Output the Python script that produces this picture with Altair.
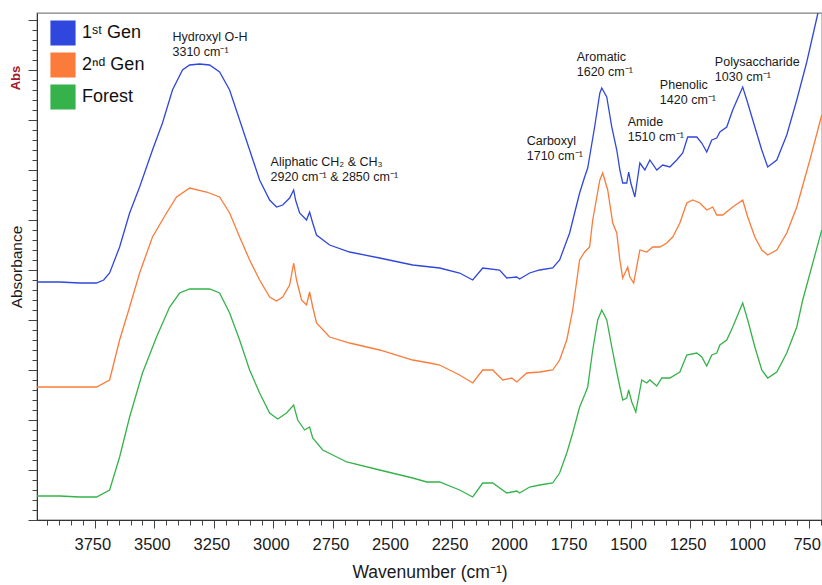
import altair as alt
import pandas as pd

# ---------------- data ----------------
series_names = ["1ˢᵗ Gen", "2ⁿᵈ Gen", "Forest"]
series_colors = ["#2f47dc", "#fb7b3a", "#36b24a"]

wn_1st = [3995, 3898, 3814, 3743, 3713, 3688, 3646, 3604, 3562, 3508, 3466, 3424, 3382, 3352,
          3310, 3268, 3226, 3184, 3142, 3100, 3058, 3016, 2987, 2961, 2932, 2915, 2907, 2890,
          2861, 2848, 2835, 2819, 2764, 2680, 2554, 2415, 2302, 2218, 2163, 2121, 2050, 2020,
          1978, 1966, 1924, 1882, 1827, 1798, 1756, 1714, 1693, 1680, 1651, 1629, 1621, 1600,
          1579, 1558, 1545, 1533, 1516, 1508, 1499, 1482, 1461, 1440, 1419, 1390, 1365, 1335,
          1306, 1281, 1260, 1222, 1201, 1180, 1159, 1138, 1125, 1096, 1071, 1029, 1008, 978,
          949, 924, 886, 844, 802, 760, 714, 697]
abs_1st = [2.38, 2.38, 2.37, 2.37, 2.40, 2.47, 2.73, 3.07, 3.33, 3.70, 3.97, 4.30, 4.50, 4.55,
           4.56, 4.55, 4.48, 4.30, 4.00, 3.70, 3.40, 3.20, 3.13, 3.15, 3.22, 3.30, 3.20, 3.07,
           3.00, 3.08, 2.97, 2.85, 2.75, 2.68, 2.62, 2.55, 2.52, 2.47, 2.40, 2.52, 2.50, 2.42,
           2.43, 2.41, 2.47, 2.50, 2.52, 2.60, 2.87, 3.27, 3.43, 3.52, 3.93, 4.27, 4.32, 4.23,
           3.93, 3.70, 3.50, 3.37, 3.37, 3.48, 3.37, 3.23, 3.57, 3.50, 3.60, 3.50, 3.55, 3.53,
           3.60, 3.67, 3.83, 3.83, 3.77, 3.68, 3.80, 3.82, 3.88, 3.93, 4.10, 4.33, 4.17, 3.93,
           3.70, 3.53, 3.60, 3.85, 4.20, 4.58, 5.06, 5.25]

wn_2nd = [3995, 3898, 3814, 3743, 3688, 3646, 3604, 3562, 3508, 3449, 3407, 3352, 3281, 3226,
          3184, 3142, 3100, 3058, 3016, 2987, 2961, 2932, 2915, 2903, 2882, 2861, 2848, 2835,
          2819, 2764, 2680, 2554, 2415, 2344, 2302, 2218, 2163, 2121, 2079, 2037, 1999, 1978,
          1936, 1882, 1827, 1798, 1768, 1743, 1714, 1693, 1672, 1659, 1629, 1617, 1596, 1575,
          1558, 1545, 1533, 1512, 1503, 1487, 1461, 1432, 1407, 1377, 1348, 1323, 1293, 1264,
          1239, 1209, 1180, 1155, 1138, 1113, 1071, 1029, 1008, 978, 949, 924, 886, 844, 802,
          747, 697]
abs_2nd = [1.33, 1.33, 1.33, 1.33, 1.40, 1.80, 2.13, 2.47, 2.83, 3.07, 3.23, 3.32, 3.28, 3.23,
           3.07, 2.83, 2.60, 2.40, 2.23, 2.19, 2.23, 2.35, 2.57, 2.40, 2.20, 2.15, 2.28, 2.13,
           1.97, 1.83, 1.77, 1.70, 1.60, 1.57, 1.55, 1.45, 1.37, 1.50, 1.50, 1.40, 1.42, 1.38,
           1.47, 1.48, 1.50, 1.60, 1.80, 2.10, 2.60, 2.68, 2.73, 3.00, 3.40, 3.47, 3.30, 2.97,
           2.87, 2.60, 2.42, 2.53, 2.43, 2.37, 2.70, 2.68, 2.73, 2.73, 2.77, 2.83, 2.97, 3.17,
           3.20, 3.17, 3.10, 3.13, 3.05, 3.05, 3.13, 3.20, 3.03, 2.83, 2.70, 2.65, 2.70, 2.87,
           3.13, 3.60, 4.05]

wn_forest = [3995, 3898, 3814, 3743, 3688, 3646, 3604, 3550, 3491, 3436, 3394, 3352, 3268,
             3226, 3184, 3142, 3100, 3058, 3016, 2982, 2945, 2915, 2898, 2869, 2848, 2835,
             2793, 2692, 2554, 2415, 2356, 2302, 2218, 2163, 2121, 2079, 2020, 1978, 1966,
             1924, 1882, 1827, 1798, 1768, 1743, 1714, 1693, 1680, 1659, 1638, 1621, 1600,
             1579, 1558, 1545, 1533, 1516, 1508, 1495, 1478, 1453, 1432, 1419, 1390, 1369,
             1335, 1293, 1264, 1222, 1201, 1180, 1159, 1138, 1125, 1096, 1071, 1029, 1008,
             978, 949, 924, 886, 844, 802, 777, 697]
abs_forest = [0.24, 0.24, 0.23, 0.23, 0.30, 0.63, 1.03, 1.47, 1.83, 2.13, 2.27, 2.31, 2.31,
              2.27, 2.07, 1.80, 1.50, 1.27, 1.07, 1.01, 1.07, 1.15, 1.00, 0.90, 0.93, 0.82,
              0.70, 0.58, 0.50, 0.42, 0.38, 0.38, 0.30, 0.23, 0.37, 0.37, 0.27, 0.29, 0.27,
              0.33, 0.35, 0.37, 0.47, 0.67, 0.87, 1.13, 1.25, 1.33, 1.70, 2.00, 2.10, 2.00,
              1.73, 1.48, 1.33, 1.20, 1.22, 1.30, 1.18, 1.08, 1.40, 1.37, 1.40, 1.34, 1.42,
              1.42, 1.48, 1.65, 1.67, 1.63, 1.54, 1.65, 1.67, 1.75, 1.80, 1.93, 2.17, 2.00,
              1.73, 1.50, 1.42, 1.48, 1.67, 1.93, 2.20, 2.90]

ann_text = ["Hydroxyl O-H\n3310 cm⁻¹",
            "Aliphatic CH₂ & CH₃\n2920 cm⁻¹ & 2850 cm⁻¹",
            "Carboxyl\n1710 cm⁻¹",
            "Aromatic\n1620 cm⁻¹",
            "Amide\n1510 cm⁻¹",
            "Phenolic\n1420 cm⁻¹",
            "Polysaccharide\n1030 cm⁻¹"]
ann_wn = [3424, 3012, 1936, 1726, 1512, 1377, 1146]
ann_abs = [4.89, 3.64, 3.85, 4.69, 4.04, 4.41, 4.64]

x_ticks = list(range(700, 4000, 50))
y_ticks = [round(i * 0.1, 1) for i in range(0, 51)]

# ---------------- tables ----------------
rows = []
for name, wn, ab in [(series_names[0], wn_1st, abs_1st),
                     (series_names[1], wn_2nd, abs_2nd),
                     (series_names[2], wn_forest, abs_forest)]:
    for w, a in zip(wn, ab):
        rows.append({"series": name, "wavenumber": w, "absorbance": a})
df = pd.DataFrame(rows)
ann_df = pd.DataFrame({"wavenumber": ann_wn, "absorbance": ann_abs, "label": ann_text})

FONT = "Liberation Sans"

x_scale = alt.Scale(domain=[3993, 696], nice=False, zero=False)
y_scale = alt.Scale(domain=[0, 5.07], nice=False, zero=False)
color_scale = alt.Scale(domain=series_names, range=series_colors)

x_enc = alt.X("wavenumber:Q", scale=x_scale,
              axis=alt.Axis(title="Wavenumber (cm⁻¹)", values=x_ticks, format="d",
                            labelExpr="datum.value % 250 == 0 ? datum.label : ''",
                            labelOverlap=False, labelFlush=False, grid=False,
                            tickSize={"condition": {"test": "datum.value % 250 == 0", "value": 8}, "value": 5},
                            labelFontSize=16.5, labelPadding=8, labelOffset=-2.5,
                            titleFontSize=17.5, titleFontWeight="normal", titlePadding=11,
                            domainColor="#333", tickColor="#444", labelColor="#1a1a1a",
                            titleColor="#1a1a1a"))
y_enc = alt.Y("absorbance:Q", scale=y_scale,
              axis=alt.Axis(title="Absorbance", values=y_ticks, labels=False, grid=False,
                            tickSize={"condition": {"test": "round(datum.value*10) % 5 == 0", "value": 9}, "value": 5},
                            titleFontSize=15.5, titleFontWeight="normal", titlePadding=3,
                            domainColor="#333", tickColor="#444", titleColor="#1a1a1a"))

legend = alt.Legend(title=None, orient="none", legendX=13, legendY=7, padding=0,
                    symbolType="square", symbolSize=560, symbolStrokeColor="#111",
                    symbolStrokeWidth=1.5, symbolOpacity=1, symbolOffset=0,
                    labelFontSize=18, labelFont=FONT, labelColor="#111", labelOffset=6,
                    rowPadding=2, labelLimit=300)

# legend carrier: no rows survive the filter, the legend comes from the fill scale
squares = alt.Chart(df).mark_square(filled=True, strokeWidth=1.5).encode(
    x=x_enc, y=y_enc,
    fill=alt.Fill("series:N", scale=color_scale, sort=series_names, legend=legend),
    stroke=alt.value("#111"),
).transform_filter("datum.wavenumber > 5000")

lines = alt.Chart(df).mark_line(strokeWidth=1.3, clip=True).encode(
    x=x_enc, y=y_enc,
    color=alt.Color("series:N", scale=color_scale, sort=series_names, legend=None),
    detail="series:N",
)

labels = alt.Chart(ann_df).mark_text(align="left", baseline="top", lineBreak="\n",
                                     lineHeight=15, fontSize=12.5, font=FONT,
                                     color="#1a1a1a").encode(
    x=x_enc, y=y_enc, text="label:N")

abs_mark = alt.Chart(pd.DataFrame({"t": ["Abs"]})).mark_text(
    angle=270, fontSize=13, fontWeight="bold", font=FONT, color="#a31a2c",
    align="center", baseline="middle").encode(
    x=alt.value(-21), y=alt.value(65), text="t:N")

chart = alt.layer(squares, lines, labels, abs_mark).properties(
    width=785, height=507,
    autosize=alt.AutoSizeParams(type="none"),
    padding={"left": 37, "top": 13, "right": 0, "bottom": 65},
    background="white",
).configure_view(stroke="#808080", strokeWidth=1.3
).configure_axis(labelFont=FONT, titleFont=FONT)

chart.save("out.html", embed_options={"renderer": "svg", "actions": False})
